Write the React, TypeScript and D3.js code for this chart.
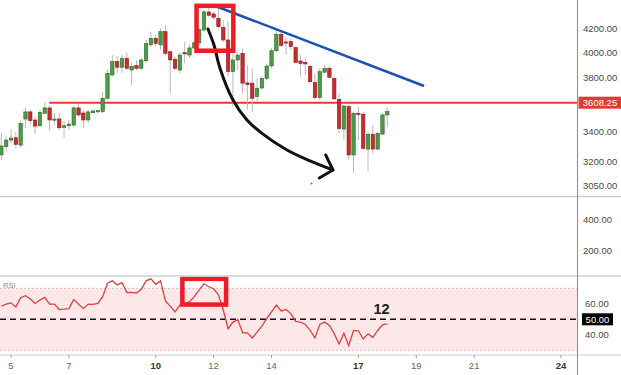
import React from "react";
import * as d3 from "d3";

// 4h candles, first visible bar at day 4 16:00
const firstBarDay = 4 + 16 / 24;
const barStep = 1 / 6;

const opens = [
  3243, 3298, 3343, 3359, 3309, 3490, 3541, 3483, 3442, 3531, 3570, 3483, 3490, 3431, 3442, 3447, 3570, 3533, 3483, 3535,
  3543, 3543, 3641, 3818, 3924, 3879, 3951, 3857, 3892, 3871, 3931, 4060, 4115, 4060, 4171, 4004, 3943, 3857, 3996, 3977,
  4035, 4077, 4185, 4343, 4325, 4287, 4208, 4101, 3844, 3937, 3991, 3757, 3755, 3653, 3718, 3792, 3889, 4012, 4149, 4085,
  4087, 4037, 3929, 3918, 3884, 3761, 3646, 3840, 3871, 3792, 3633, 3419, 3580, 3243, 3531, 3524, 3282, 3383, 3282, 3384,
  3519,
];
const highs = [
  3391, 3366, 3419, 3400, 3483, 3570, 3555, 3507, 3555, 3606, 3591, 3533, 3533, 3478, 3483, 3584, 3599, 3555, 3555, 3560,
  3555, 3690, 3857, 3977, 3969, 3977, 3994, 3913, 3937, 3953, 4101, 4171, 4143, 4200, 4228, 4010, 3964, 3994, 4087, 4060,
  4090, 4200, 4360, 4375, 4343, 4375, 4272, 4256, 4018, 4004, 4032, 3897, 3870, 3792, 3805, 3910, 4035, 4185, 4171, 4129,
  4115, 4046, 3977, 3950, 3897, 3830, 3873, 3897, 3884, 3805, 3678, 3591, 3591, 3543, 3577, 3543, 3400, 3447, 3398, 3533,
  3577,
];
const lows = [
  3210, 3265, 3323, 3287, 3289, 3426, 3447, 3384, 3435, 3526, 3412, 3447, 3412, 3357, 3412, 3433, 3504, 3426, 3461, 3531,
  3533, 3531, 3628, 3805, 3834, 3834, 3857, 3741, 3857, 3857, 3913, 4048, 4046, 4018, 3977, 3678, 3857, 3830, 3910, 3953,
  4020, 4060, 4171, 4300, 4272, 4200, 4087, 3805, 3579, 3857, 3678, 3555, 3543, 3616, 3703, 3779, 3870, 4001, 4043, 3977,
  4018, 3910, 3805, 3818, 3753, 3633, 3628, 3834, 3792, 3628, 3389, 3343, 3210, 3127, 3343, 3276, 3137, 3254, 3276, 3377,
  3433,
];
const closes = [
  3303, 3343, 3357, 3314, 3459, 3541, 3478, 3440, 3538, 3570, 3483, 3490, 3428, 3442, 3454, 3570, 3519, 3483, 3541, 3548,
  3550, 3641, 3831, 3924, 3879, 3951, 3871, 3884, 3871, 3937, 4073, 4115, 4073, 4171, 3991, 3937, 3871, 3977, 3990, 4035,
  4077, 4191, 4343, 4313, 4296, 4214, 4101, 3844, 3937, 3977, 3755, 3744, 3641, 3716, 3792, 3889, 4012, 4149, 4055, 4080,
  4046, 3918, 3910, 3905, 3766, 3646, 3844, 3871, 3800, 3636, 3424, 3584, 3243, 3531, 3524, 3287, 3383, 3282, 3389, 3519,
  3543,
];
const rsiValues = [
  58.5, 59.8, 60.6, 58, 63.9, 65.2, 63.1, 60.2, 62.4, 64.1, 59.8, 59.8, 56.3, 56.5, 56.9, 62.8, 59.8, 56.9, 59.8, 59.6,
  60.2, 64.6, 73.3, 74.8, 72.2, 73.7, 67.2, 67.4, 67, 69.3, 74.8, 76.1, 72.6, 74.8, 61.8, 58.5, 54.8, 59.2, 60.2, 61.3,
  64.6, 69, 72.9, 71, 69.7, 65.7, 56, 43.9, 48.2, 49.8, 41.3, 41.3, 38, 41.7, 45.6, 50.4, 54.8, 59.2, 55.4, 56.3,
  53.7, 48.7, 48.2, 46.7, 42.8, 38, 46.7, 48.2, 46.1, 40.6, 34.1, 41, 33, 42.8, 42.6, 37.3, 40.6, 38.4, 42.8, 46.5,
  47.1,
];

const dayTicks = [5, 7, 10, 12, 14, 17, 19, 21, 24];
const boldDays = [10, 17, 24];
const priceTicks = [3050, 3200, 3400, 3800, 4000, 4200];
const volumeTicks = [200, 400];
const rsiTicks = [40, 60];
const rsiBand = [30, 70];
const rsiMid = 50;
const supportPrice = 3608.25;
const supportStartDay = 6.32;

// drawn annotations, in [day, price] / [day, rsi]
const trendLine = [[12.15, 4387], [19.27, 3733]];
const arrowCurve = [
  [11.805, 4194], [12.012, 4059], [12.219, 3871], [12.668, 3628], [13.152, 3483],
  [13.67, 3389], [14.534, 3276], [15.328, 3204], [16.122, 3145],
];
const arrowHead = [[15.87, 3243], [16.122, 3145], [15.65, 3094]];
const priceBox = [[11.41, 4397], [12.68, 4012]];
const rsiBox = [[10.92, 76.1], [12.43, 59.5]];
const redDot = [15.38, 3060];

const W = 621;
const H = 375;
const axisX = 577.5;
const mainBottom = 196.5;
const volBottom = 276;
const timeTop = 355;
const font = "'Liberation Sans', Arial, sans-serif";

export default function App() {
  const x = d3.scaleLinear().domain([5, 24]).range([11, 561]);
  const y = d3.scaleLog().domain([3050, 4200]).range([185, 28.3]);
  const yVol = d3.scaleLinear().domain([0, 400]).range([280.7, 219.3]);
  const yRsi = d3.scaleLinear().domain([30, 70]).range([350.3, 288.3]);

  const bars = opens.map((o, i) => ({
    day: firstBarDay + i * barStep,
    o,
    h: highs[i],
    l: lows[i],
    c: closes[i],
  }));

  const rsiLine = d3
    .line<number>()
    .x((d, i) => x(firstBarDay + i * barStep))
    .y((d) => yRsi(d));

  const arc = d3
    .line<number[]>()
    .x((d) => x(d[0]))
    .y((d) => y(d[1]))
    .curve(d3.curveCatmullRom.alpha(0.5));
  const head = d3
    .line<number[]>()
    .x((d) => x(d[0]))
    .y((d) => y(d[1]));

  const bw = 3.4;

  return (
    <div style={{ position: "fixed", left: 0, top: 0 }}>
      <svg width={W} height={H} style={{ display: "block", background: "#fff" }}>
        <defs>
          <clipPath id="mainClip">
            <rect x={0} y={0} width={axisX} height={mainBottom} />
          </clipPath>
          <clipPath id="rsiClip">
            <rect x={0} y={volBottom} width={axisX} height={timeTop - volBottom} />
          </clipPath>
        </defs>

        {/* main pane */}
        <g clipPath="url(#mainClip)">
          <line
            x1={x(supportStartDay)}
            x2={axisX}
            y1={y(supportPrice)}
            y2={y(supportPrice)}
            stroke="#e8373a"
            strokeWidth={2}
          />
          {bars.map((b, i) => {
            const up = b.c >= b.o;
            const top = y(Math.max(b.o, b.c));
            const bot = y(Math.min(b.o, b.c));
            return (
              <g key={i}>
                <line x1={x(b.day)} x2={x(b.day)} y1={y(b.h)} y2={y(b.l)} stroke="#b8b8b8" strokeWidth={1} />
                <rect
                  x={x(b.day) - bw / 2}
                  y={top}
                  width={bw}
                  height={Math.max(1.2, bot - top)}
                  fill={up ? "#4d9b45" : "#cc2b2b"}
                  stroke={up ? "#2b6a2b" : "#8f1b1b"}
                  strokeWidth={0.6}
                />
              </g>
            );
          })}
          <line
            x1={x(trendLine[0][0])}
            y1={y(trendLine[0][1])}
            x2={x(trendLine[1][0])}
            y2={y(trendLine[1][1])}
            stroke="#1a4fb5"
            strokeWidth={2.5}
          />
          <path d={arc(arrowCurve) || ""} fill="none" stroke="#111" strokeWidth={3} strokeLinecap="round" />
          <path
            d={head(arrowHead) || ""}
            fill="none"
            stroke="#111"
            strokeWidth={3}
            strokeLinecap="round"
            strokeLinejoin="round"
          />
          <rect
            x={x(priceBox[0][0])}
            y={y(priceBox[0][1])}
            width={x(priceBox[1][0]) - x(priceBox[0][0])}
            height={y(priceBox[1][1]) - y(priceBox[0][1])}
            fill="none"
            stroke="#ee1c25"
            strokeWidth={4.5}
          />
          <circle cx={x(redDot[0])} cy={y(redDot[1])} r={1} fill="#e53935" />
        </g>

        {/* RSI pane */}
        <g clipPath="url(#rsiClip)">
          <rect
            x={0}
            y={yRsi(rsiBand[1])}
            width={axisX}
            height={yRsi(rsiBand[0]) - yRsi(rsiBand[1])}
            fill="#fce8e9"
          />
          {rsiBand.map((v) => (
            <line
              key={v}
              x1={0}
              x2={axisX}
              y1={yRsi(v)}
              y2={yRsi(v)}
              stroke="#d8b9bb"
              strokeDasharray="2,2"
              strokeWidth={1}
            />
          ))}
          <line
            x1={0}
            x2={axisX}
            y1={yRsi(rsiMid)}
            y2={yRsi(rsiMid)}
            stroke="#111"
            strokeDasharray="6,4"
            strokeWidth={1.5}
          />
          <path d={rsiLine(rsiValues) || ""} fill="none" stroke="#e0403a" strokeWidth={1.3} />
          <rect
            x={x(rsiBox[0][0])}
            y={yRsi(rsiBox[0][1])}
            width={x(rsiBox[1][0]) - x(rsiBox[0][0])}
            height={yRsi(rsiBox[1][1]) - yRsi(rsiBox[0][1])}
            fill="none"
            stroke="#ee1c25"
            strokeWidth={4.5}
          />
          <text x={3} y={288} fontSize={7.5} fill="#8a8a8a" fontFamily={font}>
            RSI
          </text>
        </g>
        <text x={x(17.8)} y={314} fontSize={14.5} fontWeight="bold" fill="#222" textAnchor="middle" fontFamily={font}>
          12
        </text>

        {/* pane borders */}
        <line x1={0} x2={W} y1={mainBottom} y2={mainBottom} stroke="#c9c9c9" strokeWidth={1.5} />
        <line x1={0} x2={W} y1={volBottom} y2={volBottom} stroke="#cfcfcf" strokeWidth={1.5} />
        <line x1={0} x2={W} y1={timeTop} y2={timeTop} stroke="#cfcfcf" strokeWidth={1} />
        <line x1={axisX} x2={axisX} y1={0} y2={H} stroke="#8c8c8c" strokeWidth={1} />

        {/* price axis */}
        {priceTicks.map((t) => (
          <text key={t} x={583} y={y(t) + 3.5} fontSize={9.5} fill="#4a4a4a" fontFamily={font}>
            {t.toFixed(2)}
          </text>
        ))}
        <rect x={578.5} y={y(supportPrice) - 6} width={43} height={12} fill="#e53935" />
        <text x={600} y={y(supportPrice) + 3.5} fontSize={9.5} fill="#fff" textAnchor="middle" fontFamily={font}>
          {supportPrice.toFixed(2)}
        </text>

        {volumeTicks.map((t) => (
          <text key={t} x={583} y={yVol(t) + 3.5} fontSize={9.5} fill="#4a4a4a" fontFamily={font}>
            {t.toFixed(2)}
          </text>
        ))}

        {rsiTicks.map((t) => (
          <text key={t} x={585} y={yRsi(t) + 3.5} fontSize={9.5} fill="#4a4a4a" fontFamily={font}>
            {t.toFixed(2)}
          </text>
        ))}
        <rect x={582} y={yRsi(rsiMid) - 6} width={31} height={12} fill="#000" />
        <text x={597.5} y={yRsi(rsiMid) + 3.5} fontSize={9.5} fill="#fff" textAnchor="middle" fontFamily={font}>
          {rsiMid.toFixed(2)}
        </text>

        {/* time axis */}
        {dayTicks.map((d) => (
          <g key={d}>
            <line x1={x(d)} x2={x(d)} y1={timeTop} y2={timeTop + 3} stroke="#999" strokeWidth={1} />
            <text
              x={x(d)}
              y={368.5}
              fontSize={9.5}
              fontWeight={boldDays.includes(d) ? "bold" : "normal"}
              fill={boldDays.includes(d) ? "#333" : "#666"}
              textAnchor="middle"
              fontFamily={font}
            >
              {d}
            </text>
          </g>
        ))}
      </svg>
    </div>
  );
}
